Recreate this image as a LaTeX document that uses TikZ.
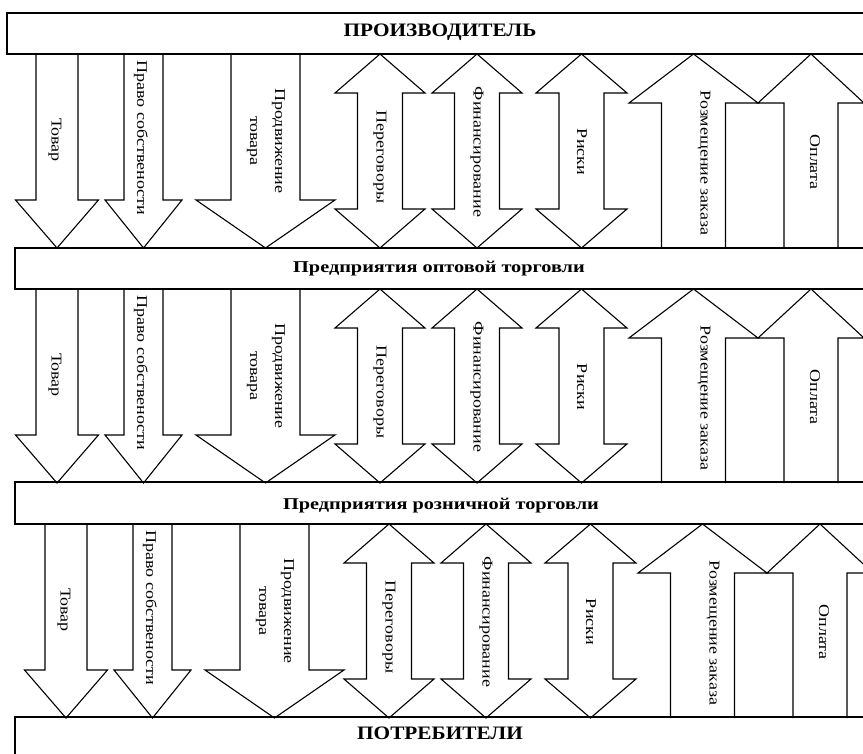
\documentclass[tikz,border=0pt]{standalone}
\usepackage{fontspec}
\setmainfont{Liberation Serif}
\newfontfamily\lblfont[FakeStretch=1.2]{Liberation Serif}
\newfontfamily\ttlfont[FakeStretch=1.12]{Liberation Serif}
\newfontfamily\subfont[FakeStretch=1.23]{Liberation Serif}

% block arrows: centre, shaft half width, head half width
\newcommand{\arrdown}[3]{\draw ({#1-#2},0) -- ({#1-#2},146) -- ({#1-#3},146) -- (#1,194) -- ({#1+#3},146) -- ({#1+#2},146) -- ({#1+#2},0);}
\newcommand{\arrboth}[3]{\draw (#1,0) -- ({#1+#3},39) -- ({#1+#2},39) -- ({#1+#2},155) -- ({#1+#3},155) -- (#1,194) -- ({#1-#3},155) -- ({#1-#2},155) -- ({#1-#2},39) -- ({#1-#3},39) -- cycle;}
\newcommand{\arrup}[3]{\draw ({#1-#2},194) -- ({#1-#2},49) -- ({#1-#3},49) -- (#1,0) -- ({#1+#3},49) -- ({#1+#2},49) -- ({#1+#2},194);}

\begin{document}
\begin{tikzpicture}[x=1pt,y=-1pt,line width=1.1pt,
    lbl/.style={rotate=-90,inner sep=0pt,align=center,font=\lblfont\fontsize{15}{25}\selectfont},
    ttl/.style={inner sep=0pt,anchor=base,font=\ttlfont\bfseries\fontsize{19}{19}\selectfont},
    sub/.style={inner sep=0pt,anchor=base,font=\subfont\bfseries\fontsize{16.5}{16.5}\selectfont}]
    \useasboundingbox (0,0) rectangle (863,754);
    % levels
    \draw (880,13) -- (7,13) -- (7,54) -- (880,54);
    \draw (880,248) -- (15,248) -- (15,289) -- (880,289);
    \draw (880,482) -- (15,482) -- (15,524) -- (880,524);
    \draw (880,717) -- (15,717) -- (15,770);
    \node[ttl] (producer) at (440,37) {ПРОИЗВОДИТЕЛЬ};
    \node[sub] (wholesale) at (439,273) {Предприятия оптовой торговли};
    \node[sub] (retail) at (441,509) {Предприятия розничной торговли};
    \node[ttl] (consumers) at (440,739) {ПОТРЕБИТЕЛИ};
    % flows between levels
    \foreach \dx/\dy [count=\r] in {0/54,0/289,9/524}{
      \begin{scope}[shift={(\dx,\dy)}]
        \arrdown{57}{21}{41.5}
        \arrdown{143.5}{19.5}{38.5}
        \arrdown{265.5}{34.5}{69.5}
        \arrboth{380}{22.5}{45}
        \arrboth{477}{22.5}{45}
        \arrboth{581.5}{22.5}{45.5}
        \arrup{693.5}{32}{64.5}
        \arrup{811}{27}{53}
        \node[lbl] (goods\r) at (55,86) {Товар};
        \node[lbl] (title\r) at (141,84) {Право собствености};
        \node[lbl] (promo\r) at (266,87) {Продвижение\\товара};
        \node[lbl] (talks\r) at (380,103) {Переговоры};
        \node[lbl] (finance\r) at (477,98) {Финансирование};
        \node[lbl] (risks\r) at (582,98) {Риски};
        \node[lbl] (order\r) at (704,109) {Розмещение заказа};
        \node[lbl] (payment\r) at (815,108) {Оплата};
      \end{scope}}
\end{tikzpicture}
\end{document}
